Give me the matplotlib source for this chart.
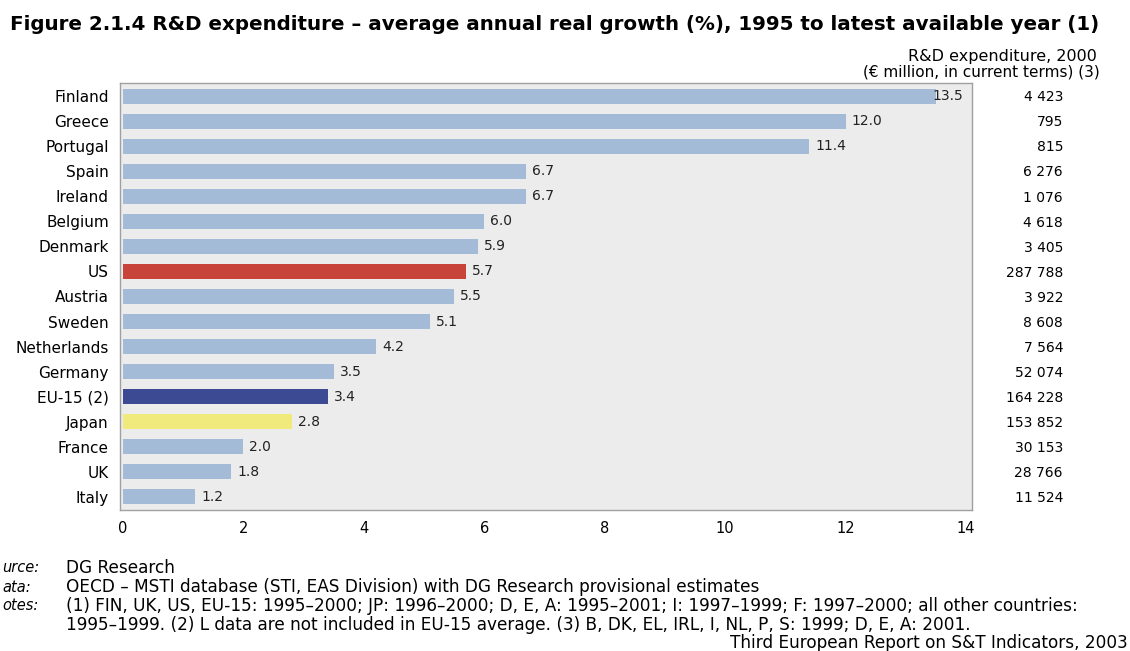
import matplotlib
matplotlib.use("Agg")
import matplotlib.pyplot as plt
import matplotlib.transforms as mtransforms

countries = ["Finland", "Greece", "Portugal", "Spain", "Ireland", "Belgium", "Denmark",
             "US", "Austria", "Sweden", "Netherlands", "Germany", "EU-15 (2)", "Japan",
             "France", "UK", "Italy"]
growth = [13.5, 12.0, 11.4, 6.7, 6.7, 6.0, 5.9, 5.7, 5.5, 5.1, 4.2, 3.5, 3.4, 2.8, 2.0, 1.8, 1.2]
expenditure = ["4 423", "795", "815", "6 276", "1 076", "4 618", "3 405", "287 788", "3 922",
               "8 608", "7 564", "52 074", "164 228", "153 852", "30 153", "28 766", "11 524"]
xticks = [0, 2, 4, 6, 8, 10, 12, 14]

base = "#a3bbd6"
special = {"US": "#c8433a", "EU-15 (2)": "#3b4a93", "Japan": "#f0ea7c"}
colors = [special.get(c, base) for c in countries]

W, H = 1130, 651
fig = plt.figure(figsize=(W / 100, H / 100), dpi=100)
fig.patch.set_facecolor("white")

# axes: left 120px, right 972px, top 83px, bottom 510px
ax = fig.add_axes([120 / W, 1 - 510 / H, (972 - 120) / W, (510 - 83) / H])
ax.set_facecolor("#ececec")
n = len(countries)
ypos = list(range(n))
ax.barh(ypos, growth, height=0.6, color=colors, zorder=2)
ax.set_ylim(n - 1 + 0.52, -0.52)
ax.set_xlim(-0.05, 14.1)
ax.set_xticks(xticks)
ax.set_xticklabels([str(t) for t in xticks], fontsize=10.5, family="DejaVu Sans")
ax.set_yticks(ypos)
ax.set_yticklabels(countries, fontsize=11, family="DejaVu Sans")
ax.tick_params(axis="both", length=0)
ax.tick_params(axis="y", pad=8)
ax.tick_params(axis="x", pad=8)
for s in ax.spines.values():
    s.set_color("#a0a0a0")
    s.set_linewidth(1.0)

for y, v in zip(ypos, growth):
    if v >= 13.5:
        ax.text(v - 0.05, y, f"{v:.1f}", va="center", ha="left", fontsize=10,
                family="DejaVu Sans", color="#222222", zorder=3)
    else:
        ax.text(v + 0.1, y, f"{v:.1f}", va="center", ha="left", fontsize=10,
                family="DejaVu Sans", color="#222222", zorder=3)

# right column of expenditure values
trans = mtransforms.blended_transform_factory(fig.transFigure, ax.transData)
for y, e in zip(ypos, expenditure):
    ax.text(1063 / W, y + 0.05, e, transform=trans, fontsize=10, family="DejaVu Sans",
            ha="right", va="center", clip_on=False)

fig.text(1097 / W, 1 - 57 / H, "R&D expenditure, 2000", ha="right", va="center",
         fontsize=11.5, family="DejaVu Sans")
fig.text(1100 / W, 1 - 72 / H, "(€ million, in current terms) (3)", ha="right", va="center",
         fontsize=11, family="DejaVu Sans")

fig.text(10 / W, 1 - 25 / H,
         "Figure 2.1.4 R&D expenditure – average annual real growth (%), 1995 to latest available year (1)",
         ha="left", va="center", fontsize=14.3, fontweight="bold", family="DejaVu Sans")

foot_fs = 12.2
labels = [("urce:", 568), ("ata:", 587), ("otes:", 606)]
for lab, yy in labels:
    fig.text(2 / W, 1 - yy / H, lab, ha="left", va="center", fontsize=10.5,
             style="italic", family="DejaVu Sans")
fig.text(66 / W, 1 - 568 / H, "DG Research", ha="left", va="center", fontsize=foot_fs, family="DejaVu Sans")
fig.text(66 / W, 1 - 587 / H, "OECD – MSTI database (STI, EAS Division) with DG Research provisional estimates",
         ha="left", va="center", fontsize=foot_fs, family="DejaVu Sans")
fig.text(66 / W, 1 - 606 / H,
         "(1) FIN, UK, US, EU-15: 1995–2000; JP: 1996–2000; D, E, A: 1995–2001; I: 1997–1999; F: 1997–2000; all other countries:",
         ha="left", va="center", fontsize=foot_fs, family="DejaVu Sans")
fig.text(66 / W, 1 - 625 / H,
         "1995–1999. (2) L data are not included in EU-15 average. (3) B, DK, EL, IRL, I, NL, P, S: 1999; D, E, A: 2001.",
         ha="left", va="center", fontsize=foot_fs, family="DejaVu Sans")
fig.text(1128 / W, 1 - 643 / H, "Third European Report on S&T Indicators, 2003",
         ha="right", va="center", fontsize=foot_fs, family="DejaVu Sans")

fig.savefig("out.png", dpi=100)
